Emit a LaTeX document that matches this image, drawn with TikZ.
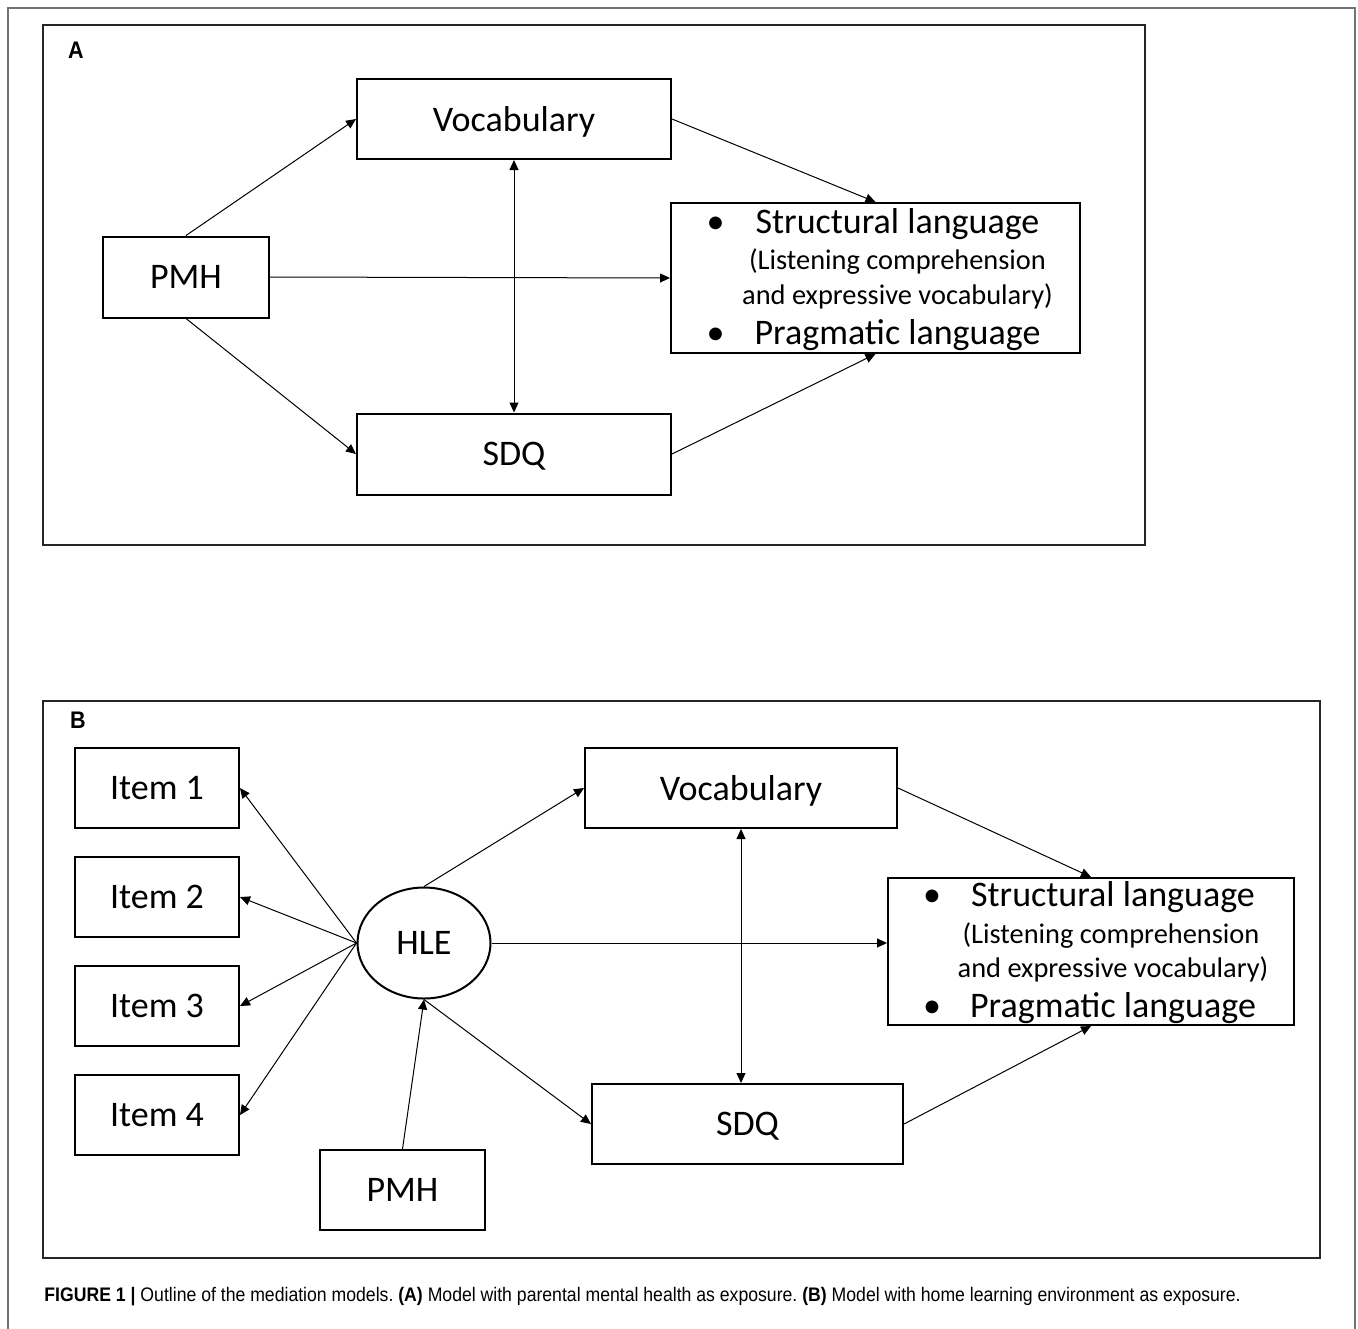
\documentclass[tikz,border=0pt]{standalone}
\usepackage{fontspec}
\setmainfont{Carlito}
\newfontfamily\capfont[FakeStretch=0.9]{Liberation Sans}
\usetikzlibrary{arrows.meta,positioning,shapes.geometric}
\tikzset{
mybox/.style={
  rectangle,
  line width=1pt,
  draw=black,
  inner sep=0pt,
  text depth=0pt,
  font=\fontsize{18}{21}\selectfont,
  }
}
\tikzset{
mytext/.style={
  inner sep=0pt,
  font=\fontsize{18}{21}\selectfont,
  }
}
\tikzset{
mysmall/.style={
  inner sep=0pt,
  font=\fontsize{14.2}{17}\selectfont,
  }
}
\tikzset{
myline/.style={
  line width=0.5pt,
  -{Triangle[length=5pt,width=4.5pt]}
  }
}
\tikzset{
myframe/.style={
  line width=0.9pt,
  draw=black!85,
  }
}

\begin{document}
\frenchspacing
\begin{tikzpicture}[x=0.5pt,y=-0.5pt]
    \useasboundingbox (0,0) rectangle (1358,1328);
    % outer frame, open at the bottom
    \draw[line width=0.8pt, color=black!55] (8,1340) -- (8,8) -- (1355,8) -- (1355,1340);
    \path[myframe] (43,25) rectangle (1145,545);
    \path[myframe] (43,701) rectangle (1320,1258);
    \node[font=\capfont\bfseries\fontsize{12}{14}\selectfont] (lblA) at (76,50) {A};
    \node[font=\capfont\bfseries\fontsize{12}{14}\selectfont] (lblB) at (78,720) {B};

    % panel A
    \node[mybox, minimum width=157pt, minimum height=40pt] (vocA) at (514,119) {Vocabulary};
    \node[mybox, minimum width=83pt, minimum height=40.5pt] (pmhA) at (186,277) {PMH};
    \node[mybox, minimum width=157pt, minimum height=40.5pt] (sdqA) at (514,454) {SDQ};
    \node[mybox, minimum width=204.5pt, minimum height=75pt] (outA) at (875.5,278) {};
    \node[mytext] (outA-s) at ([shift={(22,-54)}]outA.center) {Structural language};
    \node[mysmall] (outA-l) at ([shift={(22,-16)}]outA.center) {(Listening comprehension};
    \node[mysmall] (outA-e) at ([shift={(22,18)}]outA.center) {and expressive vocabulary)};
    \node[mytext] (outA-p) at ([shift={(22,57)}]outA.center) {Pragmatic language};
    \node[mytext] (outA-b1) at ([shift={(-160,-53)}]outA.center) {\textbullet};
    \node[mytext] (outA-b2) at ([shift={(-160,58)}]outA.center) {\textbullet};
    \draw[myline] (pmhA.north) -- (vocA.west);
    \draw[myline] (pmhA.east) -- (outA.west);
    \draw[myline] (pmhA.south) -- (sdqA.west);
    \draw[myline] (vocA.east) -- (outA.north);
    \draw[myline] (sdqA.east) -- (outA.south);
    \draw[myline, {Triangle[length=5pt,width=4.5pt]}-{Triangle[length=5pt,width=4.5pt]}] (vocA.south) -- (sdqA.north);

    % panel B
    \node[mybox, minimum width=82pt, minimum height=40pt] (item1) at (157,788) {Item 1};
    \node[mybox, minimum width=82pt, minimum height=40pt] (item2) at (157,897) {Item 2};
    \node[mybox, minimum width=82pt, minimum height=40pt] (item3) at (157,1006) {Item 3};
    \node[mybox, minimum width=82pt, minimum height=40pt] (item4) at (157,1115) {Item 4};
    \node[mybox, ellipse, minimum width=66.5pt, minimum height=55.5pt] (hle) at (424,943) {HLE};
    \node[mybox, minimum width=156pt, minimum height=40pt] (vocB) at (741,788) {Vocabulary};
    \node[mybox, minimum width=155.5pt, minimum height=40pt] (sdqB) at (747.5,1124) {SDQ};
    \node[mybox, minimum width=82.5pt, minimum height=40pt] (pmhB) at (402.5,1190) {PMH};
    \node[mybox, minimum width=203pt, minimum height=73.5pt] (outB) at (1091,951.5) {};
    \node[mytext] (outB-s) at ([shift={(22,-54)}]outB.center) {Structural language};
    \node[mysmall] (outB-l) at ([shift={(20,-16)}]outB.center) {(Listening comprehension};
    \node[mysmall] (outB-e) at ([shift={(22,18)}]outB.center) {and expressive vocabulary)};
    \node[mytext] (outB-p) at ([shift={(22,57)}]outB.center) {Pragmatic language};
    \node[mytext] (outB-b1) at ([shift={(-159,-53)}]outB.center) {\textbullet};
    \node[mytext] (outB-b2) at ([shift={(-159,58)}]outB.center) {\textbullet};
    \draw[myline] (hle.west) -- (item1.east);
    \draw[myline] (hle.west) -- (item2.east);
    \draw[myline] (hle.west) -- (item3.east);
    \draw[myline] (hle.west) -- (item4.east);
    \draw[myline] (hle.north) -- (vocB.west);
    \draw[myline] (hle.east) -- (hle.east -| outB.west);
    \draw[myline] (hle.south) -- (sdqB.west);
    \draw[myline] (pmhB.north) -- (hle.south);
    \draw[myline] (vocB.east) -- (outB.north);
    \draw[myline] (sdqB.east) -- (outB.south);
    \draw[myline, {Triangle[length=5pt,width=4.5pt]}-{Triangle[length=5pt,width=4.5pt]}] (vocB.south) -- (vocB.south |- sdqB.north);

    % caption
    \node[anchor=west, inner sep=0pt, font=\capfont\fontsize{9.8}{12}\selectfont] (cap) at (44,1297)
      {\textbf{FIGURE 1 \textbar{}} Outline of the mediation models. \textbf{(A)} Model with parental mental health as exposure. \textbf{(B)} Model with home learning environment as exposure.};
\end{tikzpicture}
\end{document}
